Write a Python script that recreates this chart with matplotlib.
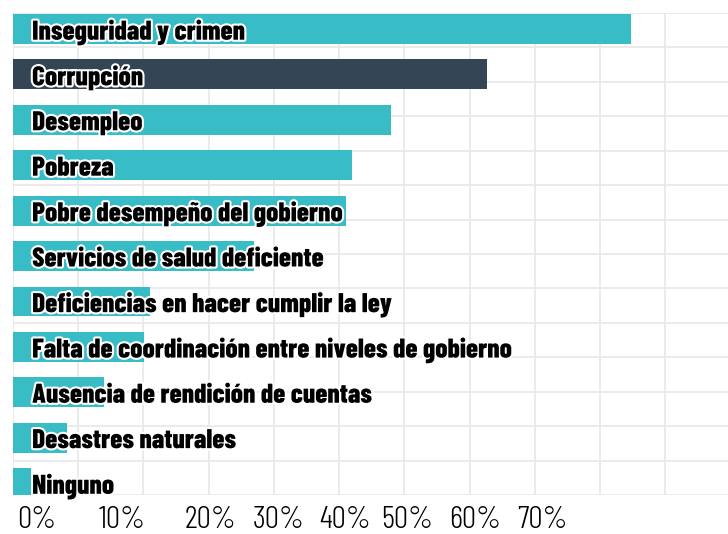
import numpy as np
import matplotlib
matplotlib.use("Agg")
import matplotlib.pyplot as plt
import matplotlib.patheffects as pe

# problem categories, top to bottom
categories = ["Inseguridad y crimen", "Corrupción", "Desempleo", "Pobreza",
              "Pobre desempeño del gobierno", "Servicios de salud deficiente",
              "Deficiencias en hacer cumplir la ley",
              "Falta de coordinación entre niveles de gobierno",
              "Ausencia de rendición de cuentas", "Desastres naturales", "Ninguno"]
# share of respondents (%)
values = [66.3, 50.9, 40.6, 36.4, 35.7, 25.9, 14.7, 14.1, 9.8, 5.8, 1.9]
highlight = "Corrupción"
tick_labels = ["0%", "10%", "20%", "30%", "40%", "50%", "60%", "70%"]

TEAL = "#38bcc6"
DARK = "#344655"
GRID = "#e9e9e9"

fig = plt.figure(figsize=(7.28, 5.34), dpi=100)
ax = fig.add_axes([13 / 728, 39 / 534, 715 / 728, 482 / 534])

px_per_unit = 9.32          # pixels per percentage point
xmax = 715 / px_per_unit

pitch = 1.319
bar_h = 0.87
ypos = 0.465 + pitch * np.arange(len(categories))
colors = [DARK if c == highlight else TEAL for c in categories]

ax.barh(ypos, values, height=bar_h, color=colors, zorder=2)

# background grid: every 7 points across, every row cell down
for gx in np.arange(0, xmax, 7):
    ax.axvline(gx, color=GRID, lw=1.3, zorder=1)
for gy in np.arange(0, 14.5, 1):
    ax.axhline(gy, color=GRID, lw=1.3, zorder=1)

outline = [pe.withStroke(linewidth=3, foreground="white")]
for y, c in zip(ypos, categories):
    ax.text(2.05, y + 0.1, c, va="center", ha="left", fontsize=19.6,
            family="Barlow Condensed", fontweight=800, color="black",
            path_effects=outline, zorder=3)

ax.set_xlim(0, xmax)
ax.set_ylim(14, 0)
ax.set_yticks([])

tick_px = [37, 122, 210, 279, 345, 407, 475, 542]
ax.set_xticks([(p - 13) / px_per_unit for p in tick_px])
ax.set_xticklabels(tick_labels, family="Barlow Condensed", fontweight=300,
                   fontsize=23)
ax.tick_params(axis="x", length=0, pad=8)
for s in ax.spines.values():
    s.set_visible(False)

fig.savefig("out.png", dpi=100)
